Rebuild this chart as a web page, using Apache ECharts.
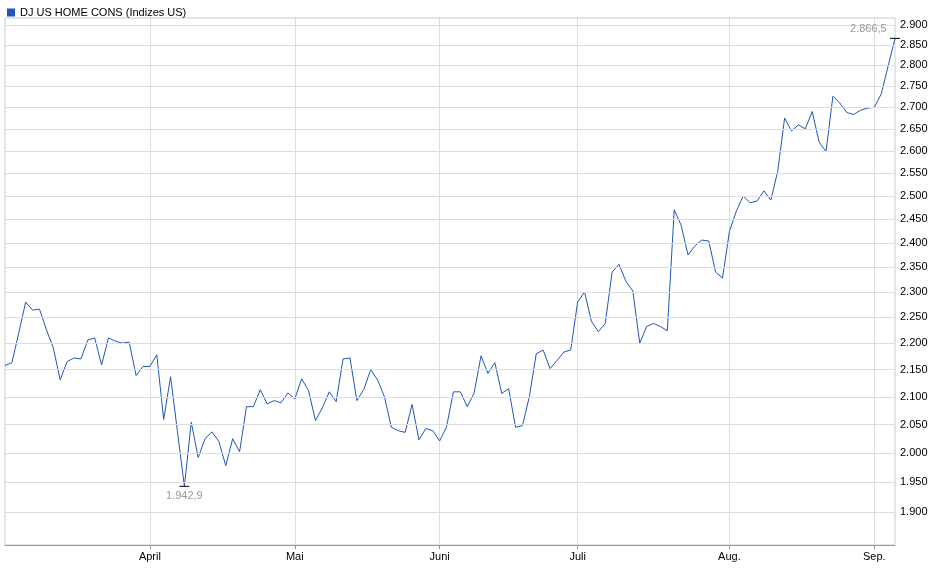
<!DOCTYPE html>
<html><head><meta charset="utf-8">
<script src="https://cdn.jsdelivr.net/npm/echarts@6/dist/echarts.min.js"></script>
<style>html,body{margin:0;padding:0;background:#fff}#c{width:940px;height:579px}</style>
</head><body><div id="c"></div>
<script>
const values = [2.158,2.163,2.220,2.280,2.264,2.266,2.226,2.191,2.131,2.165,2.172,2.170,2.206,2.210,2.159,2.210,2.204,2.200,2.202,2.139,2.156,2.156,2.178,2.059,2.137,2.037,1.9429,2.054,1.992,2.025,2.037,2.020,1.978,2.025,2.002,2.082,2.082,2.113,2.087,2.093,2.089,2.107,2.096,2.133,2.111,2.057,2.080,2.109,2.091,2.170,2.172,2.093,2.113,2.150,2.131,2.100,2.045,2.039,2.036,2.086,2.023,2.043,2.039,2.021,2.046,2.109,2.109,2.082,2.107,2.176,2.143,2.163,2.106,2.115,2.045,2.048,2.100,2.180,2.187,2.152,2.167,2.183,2.187,2.280,2.300,2.242,2.222,2.238,2.340,2.356,2.321,2.302,2.200,2.232,2.238,2.232,2.224,2.470,2.437,2.375,2.394,2.406,2.404,2.340,2.328,2.424,2.467,2.500,2.485,2.489,2.511,2.491,2.554,2.675,2.645,2.659,2.650,2.690,2.620,2.598,2.726,2.710,2.688,2.683,2.693,2.698,2.700,2.731,2.798,2.8665];
const monthStarts = [21,42,63,83,105,126];
const monthNames = ['April','Mai','Juni','Juli','Aug.','Sep.'];
const yTicks = [1.9,1.95,2.0,2.05,2.1,2.15,2.2,2.25,2.3,2.35,2.4,2.45,2.5,2.55,2.6,2.65,2.7,2.75,2.8,2.85,2.9];
const yMin = 1.8464, yMax = 2.9176;
const categories = values.map((v,i)=>String(i));
const L = v => Math.round(Math.log(v)*100000);
function de(v){
  const s = (v*1000).toFixed(1); const [ip,dp] = s.split('.');
  return ip.slice(0,-3)+'.'+ip.slice(-3)+','+dp;
}
let minI=0,maxI=0;
values.forEach((v,i)=>{if(v<values[minI])minI=i;if(v>values[maxI])maxI=i;});
const chart = echarts.init(document.getElementById('c'));
chart.setOption({
  animation:false,
  legend:{left:2,top:2,icon:'rect',itemWidth:8,itemHeight:8,itemGap:4,
    textStyle:{fontFamily:'Liberation Sans, Arial',fontSize:11,color:'#000'},
    data:['DJ US HOME CONS (Indizes US)']},
  grid:{left:5,right:45,top:18,bottom:34,show:true,borderColor:'#ccc',borderWidth:1},
  xAxis:{type:'category',data:categories,boundaryGap:false,
    axisLine:{lineStyle:{color:'#999'}},
    axisTick:{interval:(i)=>monthStarts.includes(i),lineStyle:{color:'#999'},length:4},
    axisLabel:{interval:(i)=>monthStarts.includes(i),formatter:(v,i)=>monthNames[monthStarts.indexOf(i)]||'',
      fontFamily:'Liberation Sans, Arial',fontSize:11,color:'#000',margin:6},
    splitLine:{show:true,interval:(i)=>monthStarts.includes(i),lineStyle:{color:'#ddd'}}},
  yAxis:{type:'value',min:L(yMin),max:L(yMax),
    axisLabel:{show:false},splitLine:{show:false},axisLine:{show:false},axisTick:{show:false}},
  series:[{
    name:'DJ US HOME CONS (Indizes US)',type:'line',symbol:'none',
    data:values.map(L),
    itemStyle:{color:'#1f56b8'},lineStyle:{color:'#1f56b8',width:1},
    markLine:{silent:true,symbol:'none',animation:false,precision:0,
      lineStyle:{color:'#ddd',type:'solid',width:1},
      label:{position:'end',distance:5,formatter:p=>yTicks[p.dataIndex].toFixed(3),
        fontFamily:'Liberation Sans, Arial',fontSize:11,color:'#000'},
      data:yTicks.map(t=>({yAxis:L(t)}))},
    markPoint:{silent:true,animation:false,symbol:'rect',symbolSize:[10,1],
      itemStyle:{color:'#000'},
      data:[
        {coord:[minI,L(values[minI])],label:{show:true,position:'bottom',distance:4,formatter:de(values[minI]),color:'#999',fontSize:11,fontFamily:'Liberation Sans, Arial'}},
        {coord:[maxI,L(values[maxI])],label:{show:true,position:[-40,-14],formatter:de(values[maxI]),color:'#999',fontSize:11,fontFamily:'Liberation Sans, Arial'}}
      ]}
  }]
});
</script></body></html>
